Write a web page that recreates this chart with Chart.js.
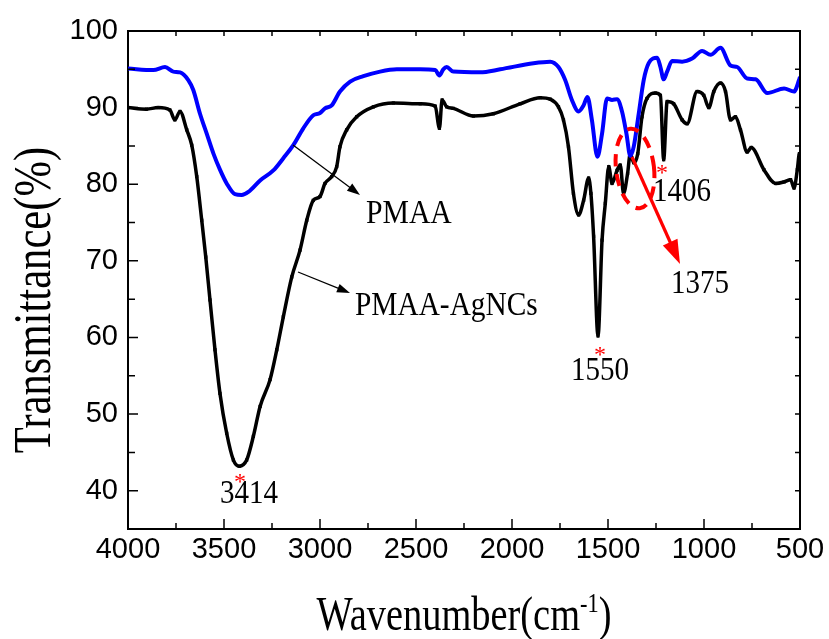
<!DOCTYPE html>
<html>
<head>
<meta charset="utf-8">
<script src="https://cdn.jsdelivr.net/npm/chart.js@4"></script>
<style>
  html, body { margin: 0; padding: 0; background: #fff; }
  #wrap { width: 829px; height: 639px; }
</style>
</head>
<body>
<div id="wrap"><canvas id="c" width="829" height="639"></canvas></div>
<script>
// ---- data ----
const pmaaWave = [4000,3868,3807,3764,3729,3686,3660,3625,3590,3555,3521,3486,3443,3408,3373,3312,3243,3191,3139,3087,3035,3000,2974,2939,2896,2843,2774,2687,2600,2478,2400,2378,2358,2340,2306,2167,2061,1888,1801,1758,1723,1688,1653,1627,1607,1584,1555,1531,1505,1479,1453,1427,1404,1384,1366,1340,1314,1288,1244,1227,1210,1192,1166,1114,1062,1010,966,914,862,827,775,731,670,583,531,505,500];
const pmaaT    = [95.1,94.9,95.3,94.7,94.6,93.6,92.3,89.2,86.6,84.0,81.9,80.1,78.7,78.6,79.0,80.5,81.8,83.4,85.1,87.3,89.0,89.3,89.9,90.3,92.1,93.4,94.1,94.7,95.0,95.0,94.9,94.2,95.0,95.3,94.7,94.6,95.0,95.8,96.0,95.3,93.6,91.0,89.5,90.3,91.4,88.4,83.6,86.6,91.2,91.0,91.1,89.5,86.6,83.7,84.9,89.2,93.6,95.8,96.5,95.3,93.7,94.7,96.1,96.0,96.4,97.4,96.9,97.8,95.5,95.3,93.8,93.7,91.9,92.5,92.1,93.6,94.0];

const agWave = [4000,3904,3843,3782,3756,3729,3694,3668,3642,3616,3595,3573,3547,3521,3486,3451,3420,3382,3347,3312,3260,3225,3191,3147,3104,3069,3035,3000,2974,2939,2913,2896,2861,2809,2722,2618,2478,2400,2378,2364,2340,2306,2201,2097,1958,1853,1801,1758,1732,1706,1680,1653,1627,1601,1589,1575,1552,1531,1514,1496,1479,1453,1436,1419,1398,1384,1366,1345,1323,1297,1253,1227,1210,1192,1158,1114,1088,1036,1001,975,949,914,888,862,836,810,775,754,688,627,583,549,531,514,503,500];
const agT    = [90.0,89.8,90.0,89.7,88.4,89.5,87.1,85.1,81.0,75.3,70.5,64.9,58.4,52.7,47.5,44.0,43.2,44.0,47.1,51.0,54.5,58.4,62.7,67.9,71.4,75.3,77.9,78.4,80.1,81.0,82.3,84.9,87.1,88.8,90.1,90.6,90.5,90.2,87.3,91.0,90.1,89.9,88.9,89.2,90.5,91.3,91.1,90.1,88.4,84.9,78.8,76.0,77.9,80.8,78.8,73.2,60.2,72.7,77.5,82.3,80.1,81.8,82.5,78.8,81.4,84.0,82.8,84.0,88.8,91.2,91.9,91.6,83.2,90.8,90.5,88.4,87.9,92.1,91.6,90.0,92.1,93.2,92.1,88.4,88.8,87.1,84.2,84.8,81.9,80.1,80.3,80.6,79.5,81.9,84.0,84.0];

const xTickMin = 500, xTickMax = 4000, xStep = 250;
const yTickMin = 35, yTickMax = 100, yStep = 5;

const seriesNames = ['PMAA', 'PMAA-AgNCs'];
const peakLabels = ['3414', '1550', '1406', '1375'];

const serif = '"Liberation Serif", "Times New Roman", serif';

function condText(ctx, str, x, y, size, sx, align) {
  ctx.save();
  ctx.font = size + 'px ' + serif;
  ctx.translate(x, y);
  ctx.scale(sx, 1);
  ctx.textAlign = align || 'left';
  ctx.textBaseline = 'alphabetic';
  ctx.fillText(str, 0, 0);
  ctx.restore();
}

function arrow(ctx, x1, y1, x2, y2, lw, headL, headW, color) {
  const a = Math.atan2(y2 - y1, x2 - x1);
  ctx.save();
  ctx.strokeStyle = color; ctx.fillStyle = color; ctx.lineWidth = lw;
  ctx.beginPath();
  ctx.moveTo(x1, y1);
  ctx.lineTo(x2 - headL * 0.8 * Math.cos(a), y2 - headL * 0.8 * Math.sin(a));
  ctx.stroke();
  ctx.beginPath();
  ctx.moveTo(x2, y2);
  ctx.lineTo(x2 - headL * Math.cos(a) + headW * Math.sin(a), y2 - headL * Math.sin(a) - headW * Math.cos(a));
  ctx.lineTo(x2 - headL * Math.cos(a) - headW * Math.sin(a), y2 - headL * Math.sin(a) + headW * Math.cos(a));
  ctx.closePath();
  ctx.fill();
  ctx.restore();
}

function star(ctx, x, y) {
  ctx.save();
  ctx.fillStyle = '#ff0000';
  ctx.font = '24px ' + serif;
  ctx.textAlign = 'center';
  ctx.textBaseline = 'alphabetic';
  ctx.fillText('*', x, y + 12);
  ctx.restore();
}

const decor = {
  id: 'decor',
  afterDatasetsDraw(chart) {
    const ctx = chart.ctx;
    const xs = chart.scales.x, ys = chart.scales.y;
    const a = chart.chartArea;
    ctx.save();
    // frame top/right
    ctx.strokeStyle = '#000'; ctx.lineWidth = 2;
    ctx.beginPath();
    ctx.moveTo(a.left, a.top); ctx.lineTo(a.right, a.top); ctx.lineTo(a.right, a.bottom);
    ctx.stroke();
    // inward ticks
    ctx.lineWidth = 1.5;
    ctx.beginPath();
    xs.ticks.forEach(t => {
      const p = xs.getPixelForValue(t.value);
      const major = t.value % 500 === 0;
      const L = major ? 10 : 6;
      ctx.moveTo(p, a.bottom); ctx.lineTo(p, a.bottom - L);
      ctx.moveTo(p, a.top); ctx.lineTo(p, a.top + 5);
    });
    ys.ticks.forEach(t => {
      const p = ys.getPixelForValue(t.value);
      const major = t.value % 10 === 0;
      const L = major ? 10 : 7;
      ctx.moveTo(a.left, p); ctx.lineTo(a.left + L, p);
      ctx.moveTo(a.right, p); ctx.lineTo(a.right - 5, p);
    });
    ctx.stroke();

    // axis titles
    ctx.fillStyle = '#000';
    {
      const size = 48, sx = 0.8, supSize = 28;
      ctx.save();
      ctx.font = size + 'px ' + serif;
      const w1 = ctx.measureText('Wavenumber(cm').width;
      const w3 = ctx.measureText(')').width;
      ctx.font = supSize + 'px ' + serif;
      const w2 = ctx.measureText('-1').width;
      const total = (w1 + w2 + w3) * sx;
      const cx = (a.left + a.right) / 2;
      const x0 = cx - total / 2;
      const base = 630;
      condText(ctx, 'Wavenumber(cm', x0, base, size, sx, 'left');
      condText(ctx, '-1', x0 + w1 * sx, base - 18, supSize, sx, 'left');
      condText(ctx, ')', x0 + (w1 + w2) * sx, base, size, sx, 'left');
      ctx.restore();
    }
    {
      ctx.save();
      ctx.translate(50, (a.top + a.bottom) / 2 + 20);
      ctx.rotate(-Math.PI / 2);
      condText(ctx, 'Transmittance(%)', 0, 0, 52, 0.82, 'center');
      ctx.restore();
    }

    // series labels with thin arrows
    condText(ctx, seriesNames[0], 366, 223, 33, 0.9, 'left');
    arrow(ctx, 293, 145, 360, 195, 1.3, 13, 4.5, '#000');
    condText(ctx, seriesNames[1], 355, 315, 33, 0.89, 'left');
    arrow(ctx, 298, 272, 350, 293, 1.3, 13, 4.5, '#000');

    // peak labels and asterisks
    star(ctx, 240, 477);
    star(ctx, 600, 350);
    star(ctx, 662, 168);
    ctx.fillStyle = '#000';
    condText(ctx, peakLabels[0], 249, 503, 33, 0.88, 'center');
    condText(ctx, peakLabels[1], 600, 380, 33, 0.88, 'center');
    condText(ctx, peakLabels[2], 682, 201, 33, 0.88, 'center');
    condText(ctx, peakLabels[3], 700, 293, 33, 0.88, 'center');

    // red dashed ellipse
    ctx.save();
    ctx.strokeStyle = '#ff0000';
    ctx.lineWidth = 4;
    ctx.setLineDash([12, 8]);
    ctx.beginPath();
    ctx.ellipse(635, 168.5, 19, 40, -0.12, 0, Math.PI * 2);
    ctx.stroke();
    ctx.restore();
    // red arrow
    arrow(ctx, 632, 157, 680, 264, 3.2, 24, 8, '#ff0000');

    ctx.restore();
  }
};

const tickFont = {family: '"Liberation Sans", Arial, sans-serif', size: 29};

new Chart(document.getElementById('c'), {
  type: 'line',
  data: {
    datasets: [
      {
        label: seriesNames[0],
        data: pmaaWave.map((w, i) => ({x: w, y: pmaaT[i]})),
        borderColor: '#0000ff', backgroundColor: '#0000ff',
        borderWidth: 4, pointRadius: 0, cubicInterpolationMode: 'monotone', fill: false
      },
      {
        label: seriesNames[1],
        data: agWave.map((w, i) => ({x: w, y: agT[i]})),
        borderColor: '#000000', backgroundColor: '#000000',
        borderWidth: 3.5, pointRadius: 2.3, pointStyle: 'rect', pointBorderWidth: 0,
        cubicInterpolationMode: 'monotone', fill: false
      }
    ]
  },
  options: {
    responsive: false, animation: false, devicePixelRatio: 1,
    layout: {padding: {top: 31, right: 29, left: 0, bottom: 0}},
    plugins: {legend: {display: false}, tooltip: {enabled: false}},
    scales: {
      x: {
        type: 'linear', reverse: true, min: xTickMin, max: xTickMax,
        grid: {display: false, drawTicks: false},
        border: {display: true, color: '#000', width: 2},
        ticks: {
          stepSize: xStep, autoSkip: false, maxRotation: 0, minRotation: 0,
          callback: v => (v % 500 === 0 ? String(v) : ''),
          font: tickFont, color: '#000', padding: 4
        },
        afterFit: s => { s.height = 110; }
      },
      y: {
        min: yTickMin, max: yTickMax,
        grid: {display: false, drawTicks: false},
        border: {display: true, color: '#000', width: 2},
        ticks: {
          stepSize: yStep, autoSkip: false,
          callback: v => (v % 10 === 0 && v >= 40 ? String(v) : ''),
          font: tickFont, color: '#000', padding: 10
        },
        afterFit: s => { s.width = 128; }
      }
    }
  },
  plugins: [decor]
});
</script>
</body>
</html>
